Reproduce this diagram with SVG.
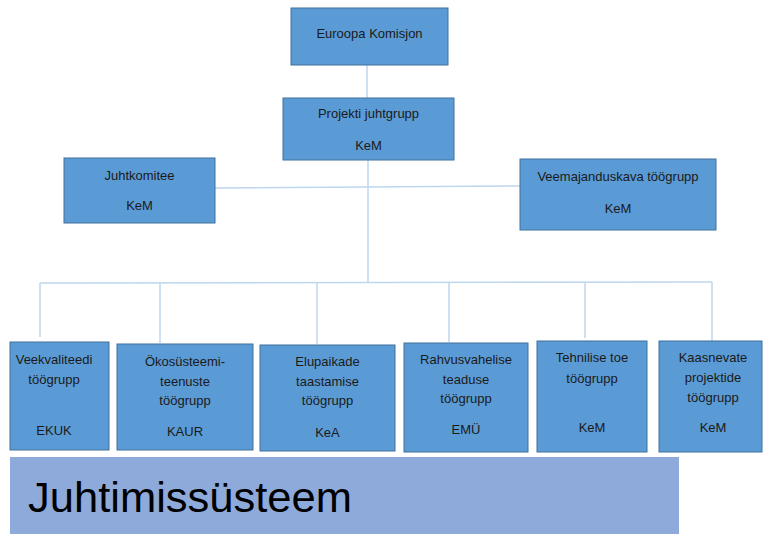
<svg xmlns="http://www.w3.org/2000/svg" width="763" height="534" viewBox="0 0 763 534">
<style>
.box{fill:#5B9BD5;stroke:#41719C;stroke-width:1}
.t{font-family:"Liberation Sans",Arial,sans-serif;font-size:13px;fill:#1a1a1a;text-anchor:middle}
.c{stroke:#BDD7EE;stroke-width:1.5;fill:none}
</style>
<rect width="763" height="534" fill="#ffffff"/>
<g id="connectors">
<line class="c" x1="367" y1="65" x2="367" y2="98"/>
<line class="c" x1="368" y1="160" x2="368" y2="283"/>
<line class="c" x1="215" y1="188" x2="520" y2="186"/>
<line class="c" x1="40" y1="283" x2="712" y2="282"/>
<line class="c" x1="40" y1="283" x2="40" y2="337"/>
<line class="c" x1="160" y1="283" x2="160" y2="343"/>
<line class="c" x1="317" y1="283" x2="317" y2="344"/>
<line class="c" x1="449" y1="283" x2="449" y2="342"/>
<line class="c" x1="585" y1="283" x2="585" y2="338"/>
<line class="c" x1="712" y1="282" x2="712" y2="341"/>
</g>
<g id="euroopa-komisjon">
<rect class="box" x="291" y="8" width="157" height="57"/>
<text class="t" x="369.5" y="38">Euroopa Komisjon</text>
</g>
<g id="projekti-juhtgrupp">
<rect class="box" x="283" y="98" width="171" height="62"/>
<text class="t" x="368.5" y="118">Projekti juhtgrupp</text>
<text class="t" x="368.5" y="150">KeM</text>
</g>
<g id="juhtkomitee">
<rect class="box" x="64" y="158" width="151" height="65"/>
<text class="t" x="139.5" y="180">Juhtkomitee</text>
<text class="t" x="139.5" y="210">KeM</text>
</g>
<g id="veemajanduskava">
<rect class="box" x="520" y="159" width="196" height="71"/>
<text class="t" x="618" y="181">Veemajanduskava töögrupp</text>
<text class="t" x="618" y="213">KeM</text>
</g>
<g id="veekvaliteedi">
<rect class="box" x="10" y="342" width="99" height="108"/>
<text class="t" x="54" y="364">Veekvaliteedi</text>
<text class="t" x="54" y="384">töögrupp</text>
<text class="t" x="54" y="435">EKUK</text>
</g>
<g id="okosusteemi">
<rect class="box" x="117" y="344" width="136" height="106"/>
<text class="t" x="185" y="366">Ökosüsteemi-</text>
<text class="t" x="185" y="386">teenuste</text>
<text class="t" x="185" y="405">töögrupp</text>
<text class="t" x="185" y="436">KAUR</text>
</g>
<g id="elupaikade">
<rect class="box" x="260" y="345" width="135" height="106"/>
<text class="t" x="327.5" y="366">Elupaikade</text>
<text class="t" x="327.5" y="386">taastamise</text>
<text class="t" x="327.5" y="405">töögrupp</text>
<text class="t" x="327.5" y="437">KeA</text>
</g>
<g id="rahvusvahelise">
<rect class="box" x="404" y="343" width="124" height="109"/>
<text class="t" x="466" y="364">Rahvusvahelise</text>
<text class="t" x="466" y="384">teaduse</text>
<text class="t" x="466" y="403">töögrupp</text>
<text class="t" x="466" y="434">EMÜ</text>
</g>
<g id="tehnilise">
<rect class="box" x="537" y="341" width="110" height="111"/>
<text class="t" x="592" y="362">Tehnilise toe</text>
<text class="t" x="592" y="383">töögrupp</text>
<text class="t" x="592" y="432">KeM</text>
</g>
<g id="kaasnevate">
<rect class="box" x="659" y="341" width="103" height="111"/>
<text class="t" x="713" y="362">Kaasnevate</text>
<text class="t" x="713" y="382">projektide</text>
<text class="t" x="713" y="402">töögrupp</text>
<text class="t" x="713" y="432">KeM</text>
</g>
<g id="banner">
<rect x="10" y="457" width="669" height="77" fill="#8EAADB"/>
<text x="28" y="512" font-family="'Liberation Sans',Arial,sans-serif" font-size="42" fill="#000000" textLength="324" lengthAdjust="spacingAndGlyphs">Juhtimissüsteem</text>
</g>
</svg>
